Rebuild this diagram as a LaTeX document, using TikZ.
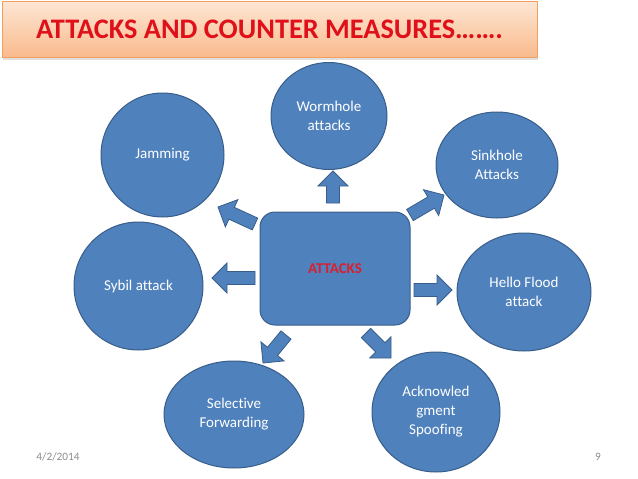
\documentclass[tikz,border=0pt]{standalone}
\usepackage{fontspec}
\setmainfont[Ligatures=NoCommon]{Carlito}
\usetikzlibrary{shapes.geometric,calc,shadows}
\definecolor{boxblue}{HTML}{4F81BD}
\definecolor{edgeblue}{HTML}{385D8A}
\definecolor{titlered}{HTML}{E0101A}
\definecolor{attackred}{HTML}{DA1F30}
\definecolor{peachtop}{HTML}{FDE6D4}
\definecolor{peachbot}{HTML}{F9BA8C}
\definecolor{peachedge}{HTML}{F2A061}
\definecolor{footgray}{HTML}{8C8C8C}
\tikzset{
	bubble/.style={ellipse,draw=edgeblue,fill=boxblue,line width=1pt,inner sep=0pt,
		text=white,align=center,font=\fontsize{15}{19}\selectfont},
	blockarr/.style={draw=edgeblue,fill=boxblue,line width=.8pt,line join=miter},
}
% block arrow from tail #1 to tip #2
\newcommand{\fatarrow}[2]{%
	\coordinate (hb) at ($(#2)!15pt!(#1)$);
	\filldraw[blockarr] ($(#1)!6.5pt!90:(#2)$) -- ($(hb)!6.5pt!-90:(#1)$)
		-- ($(hb)!15pt!-90:(#1)$) -- (#2) -- ($(hb)!15pt!90:(#1)$)
		-- ($(hb)!6.5pt!90:(#1)$) -- ($(#1)!6.5pt!-90:(#2)$) -- cycle;}
\begin{document}
\begin{tikzpicture}[x=1pt,y=-1pt]
			\useasboundingbox (0,0) rectangle (638,479);
			%title
			\node (title) [draw=peachedge,top color=peachtop,bottom color=peachbot,
				drop shadow={opacity=.25,shadow xshift=1pt,shadow yshift=-2pt},
				minimum width=535pt,minimum height=56pt,inner sep=0pt,
				text=titlered,font=\fontsize{28.3}{32}\selectfont\bfseries]
				at (269.5,29.5) {ATTACKS AND COUNTER MEASURES\ldots\ldots.};
			%centre
			\node (attacks) [draw=edgeblue,fill=boxblue,line width=1pt,rounded corners=15pt,
				minimum width=150pt,minimum height=113pt,text=attackred,
				font=\fontsize{15}{18}\selectfont\bfseries] at (335,268.5) {ATTACKS};
			%bubbles
			\node (wormhole) [bubble,minimum width=116pt,minimum height=107pt] at (329,116) {Wormhole\\attacks};
			\node (jamming) [bubble,minimum width=123pt,minimum height=124pt] at (162.5,155) {Jamming};
			\node (sinkhole) [bubble,minimum width=122pt,minimum height=106pt] at (497,165) {Sinkhole\\Attacks};
			\node (sybil) [bubble,minimum width=129pt,minimum height=128pt] at (138.5,286) {Sybil attack};
			\node (hello) [bubble,minimum width=134pt,minimum height=118pt] at (524,292) {Hello Flood\\attack};
			\node (selective) [bubble,minimum width=140pt,minimum height=107pt] at (234,414.5) {Selective\\Forwarding};
			\node (ack) [bubble,minimum width=128pt,minimum height=120pt] at (436,412) {Acknowled\\gment\\Spoofing};
			%arrows
			\coordinate (w1) at (333,203); \coordinate (w2) at (333,171);
			\coordinate (j1) at (255,224); \coordinate (j2) at (218,207);
			\coordinate (y1) at (255,278); \coordinate (y2) at (212,278);
			\coordinate (k1) at (410,215); \coordinate (k2) at (444,195);
			\coordinate (h1) at (414,290); \coordinate (h2) at (452,290);
			\coordinate (s1) at (286,335); \coordinate (s2) at (263,363);
			\coordinate (a1) at (366,333); \coordinate (a2) at (391,358);
			\fatarrow{w1}{w2}
			\fatarrow{j1}{j2}
			\fatarrow{y1}{y2}
			\fatarrow{k1}{k2}
			\fatarrow{h1}{h2}
			\fatarrow{s1}{s2}
			\fatarrow{a1}{a2}
			%footer
			\node (date) [text=footgray,font=\fontsize{11.3}{13}\selectfont] at (58,457) {4/2/2014};
			\node (page) [text=footgray,font=\fontsize{11.3}{13}\selectfont] at (598,457) {9};
		\end{tikzpicture}
\end{document}
